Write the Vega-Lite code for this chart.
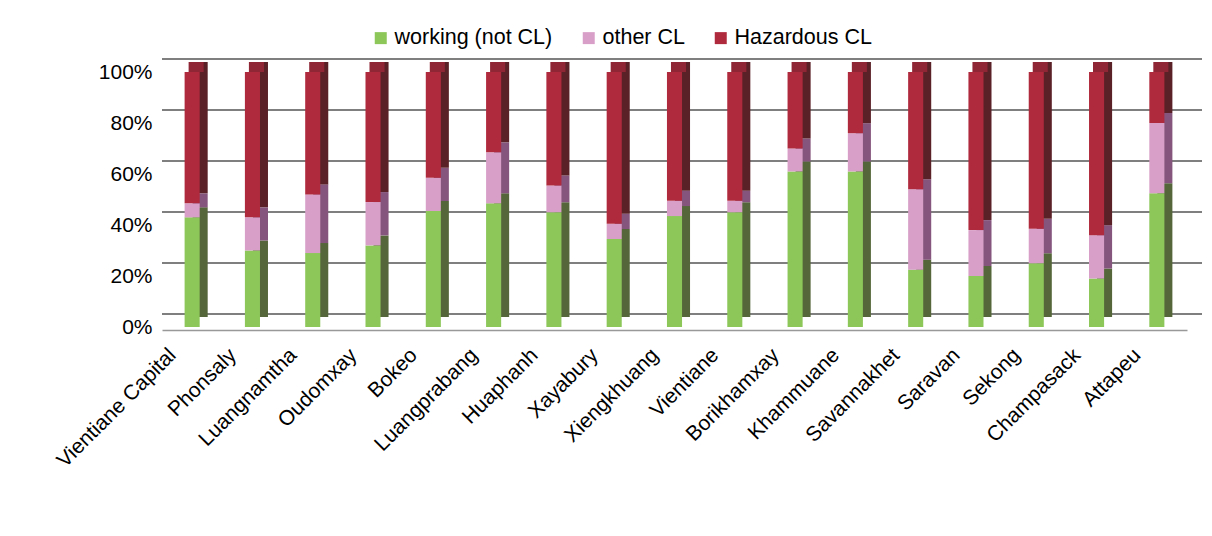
{
  "$schema": "https://vega.github.io/schema/vega-lite/v6.json",
  "autosize": "none",
  "width": 1025,
  "height": 255,
  "padding": {"left": 162, "top": 72, "right": 25, "bottom": 209},
  "background": "white",
  "config": {
    "view": {"stroke": null},
    "font": "Liberation Sans",
    "axis": {"labelFont": "Liberation Sans", "labelColor": "#000", "labelFontSize": 21, "title": null, "ticks": false, "grid": false},
    "axisX": {"labelAngle": -45, "labelAlign": "right", "labelBaseline": "top", "labelOffset": -27, "labelPadding": 14, "offset": 3, "domainColor": "#999", "domainWidth": 1.5},
    "axisY": {"values": [0, 20, 40, 60, 80, 100], "labelExpr": "datum.value + '%'", "domain": false, "labelPadding": 10},
    "legend": {"labelFont": "Liberation Sans", "labelColor": "#000", "labelFontSize": 21.5}
  },
  "datasets": {
    "grid": [{"v": 0}, {"v": 20}, {"v": 40}, {"v": 60}, {"v": 80}, {"v": 100}],
    "d": [
      {"p": "Vientiane Capital", "s": "working (not CL)", "v": 43},
      {"p": "Vientiane Capital", "s": "other CL", "v": 5.5},
      {"p": "Vientiane Capital", "s": "Hazardous CL", "v": 51.5},
      {"p": "Phonsaly", "s": "working (not CL)", "v": 30},
      {"p": "Phonsaly", "s": "other CL", "v": 13},
      {"p": "Phonsaly", "s": "Hazardous CL", "v": 57},
      {"p": "Luangnamtha", "s": "working (not CL)", "v": 29},
      {"p": "Luangnamtha", "s": "other CL", "v": 23},
      {"p": "Luangnamtha", "s": "Hazardous CL", "v": 48},
      {"p": "Oudomxay", "s": "working (not CL)", "v": 32},
      {"p": "Oudomxay", "s": "other CL", "v": 17},
      {"p": "Oudomxay", "s": "Hazardous CL", "v": 51},
      {"p": "Bokeo", "s": "working (not CL)", "v": 45.5},
      {"p": "Bokeo", "s": "other CL", "v": 13},
      {"p": "Bokeo", "s": "Hazardous CL", "v": 41.5},
      {"p": "Luangprabang", "s": "working (not CL)", "v": 48.5},
      {"p": "Luangprabang", "s": "other CL", "v": 20},
      {"p": "Luangprabang", "s": "Hazardous CL", "v": 31.5},
      {"p": "Huaphanh", "s": "working (not CL)", "v": 45},
      {"p": "Huaphanh", "s": "other CL", "v": 10.5},
      {"p": "Huaphanh", "s": "Hazardous CL", "v": 44.5},
      {"p": "Xayabury", "s": "working (not CL)", "v": 34.5},
      {"p": "Xayabury", "s": "other CL", "v": 6},
      {"p": "Xayabury", "s": "Hazardous CL", "v": 59.5},
      {"p": "Xiengkhuang", "s": "working (not CL)", "v": 43.5},
      {"p": "Xiengkhuang", "s": "other CL", "v": 6},
      {"p": "Xiengkhuang", "s": "Hazardous CL", "v": 50.5},
      {"p": "Vientiane", "s": "working (not CL)", "v": 45},
      {"p": "Vientiane", "s": "other CL", "v": 4.5},
      {"p": "Vientiane", "s": "Hazardous CL", "v": 50.5},
      {"p": "Borikhamxay", "s": "working (not CL)", "v": 61},
      {"p": "Borikhamxay", "s": "other CL", "v": 9},
      {"p": "Borikhamxay", "s": "Hazardous CL", "v": 30},
      {"p": "Khammuane", "s": "working (not CL)", "v": 61},
      {"p": "Khammuane", "s": "other CL", "v": 15},
      {"p": "Khammuane", "s": "Hazardous CL", "v": 24},
      {"p": "Savannakhet", "s": "working (not CL)", "v": 22.5},
      {"p": "Savannakhet", "s": "other CL", "v": 31.5},
      {"p": "Savannakhet", "s": "Hazardous CL", "v": 46},
      {"p": "Saravan", "s": "working (not CL)", "v": 20},
      {"p": "Saravan", "s": "other CL", "v": 18},
      {"p": "Saravan", "s": "Hazardous CL", "v": 62},
      {"p": "Sekong", "s": "working (not CL)", "v": 25},
      {"p": "Sekong", "s": "other CL", "v": 13.5},
      {"p": "Sekong", "s": "Hazardous CL", "v": 61.5},
      {"p": "Champasack", "s": "working (not CL)", "v": 19},
      {"p": "Champasack", "s": "other CL", "v": 17},
      {"p": "Champasack", "s": "Hazardous CL", "v": 64},
      {"p": "Attapeu", "s": "working (not CL)", "v": 52.5},
      {"p": "Attapeu", "s": "other CL", "v": 27.5},
      {"p": "Attapeu", "s": "Hazardous CL", "v": 20}
    ]
  },
  "layer": [
    {
      "data": {"name": "grid"},
      "mark": {"type": "rule", "yOffset": -13, "y2Offset": -13, "xOffset": 15, "x2Offset": 15, "color": "#555", "strokeWidth": 1.5},
      "encoding": {
        "y": {"field": "v", "type": "quantitative", "scale": {"domain": [0, 100]}}
      }
    },
    {
      "data": {"name": "d"},
      "mark": {"type": "bar", "xOffset": 8, "x2Offset": 8, "yOffset": -10, "y2Offset": -10},
      "encoding": {
        "x": {"field": "p", "type": "nominal", "sort": null, "scale": {"paddingInner": 0.75, "paddingOuter": 0.375}},
        "y": {"field": "v", "type": "quantitative", "stack": "zero", "scale": {"domain": [0, 100]}},
        "order": {"field": "s", "sort": "descending"},
        "color": {"field": "s", "type": "nominal", "legend": null,
          "scale": {"domain": ["working (not CL)", "other CL", "Hazardous CL"], "range": ["#55673A", "#85557D", "#5A2127"]}}
      }
    },
    {
      "data": {"name": "d"},
      "transform": [{"filter": "datum.s === 'Hazardous CL'"}],
      "mark": {"type": "bar", "color": "#8E2636", "xOffset": 4, "x2Offset": 4, "yOffset": 0, "y2Offset": -10},
      "encoding": {
        "x": {"field": "p", "type": "nominal", "sort": null, "scale": {"paddingInner": 0.75, "paddingOuter": 0.375}},
        "y": {"datum": 100, "type": "quantitative"},
        "y2": {"datum": 100}
      }
    },
    {
      "data": {"name": "d"},
      "mark": {"type": "bar"},
      "encoding": {
        "x": {"field": "p", "type": "nominal", "sort": null, "scale": {"paddingInner": 0.75, "paddingOuter": 0.375}},
        "y": {"field": "v", "type": "quantitative", "stack": "zero", "scale": {"domain": [0, 100]}},
        "order": {"field": "s", "sort": "descending"},
        "color": {"field": "s", "type": "nominal",
          "scale": {"domain": ["working (not CL)", "other CL", "Hazardous CL"], "range": ["#8DC75A", "#D8A0C8", "#B02A3D"]},
          "legend": {"orient": "none", "direction": "horizontal", "legendX": 208, "legendY": -45, "title": null, "symbolType": "square", "symbolSize": 144, "symbolStrokeWidth": 0, "labelOffset": 3, "columnPadding": 25}}
      }
    }
  ],
  "resolve": {"scale": {"color": "independent"}}
}
